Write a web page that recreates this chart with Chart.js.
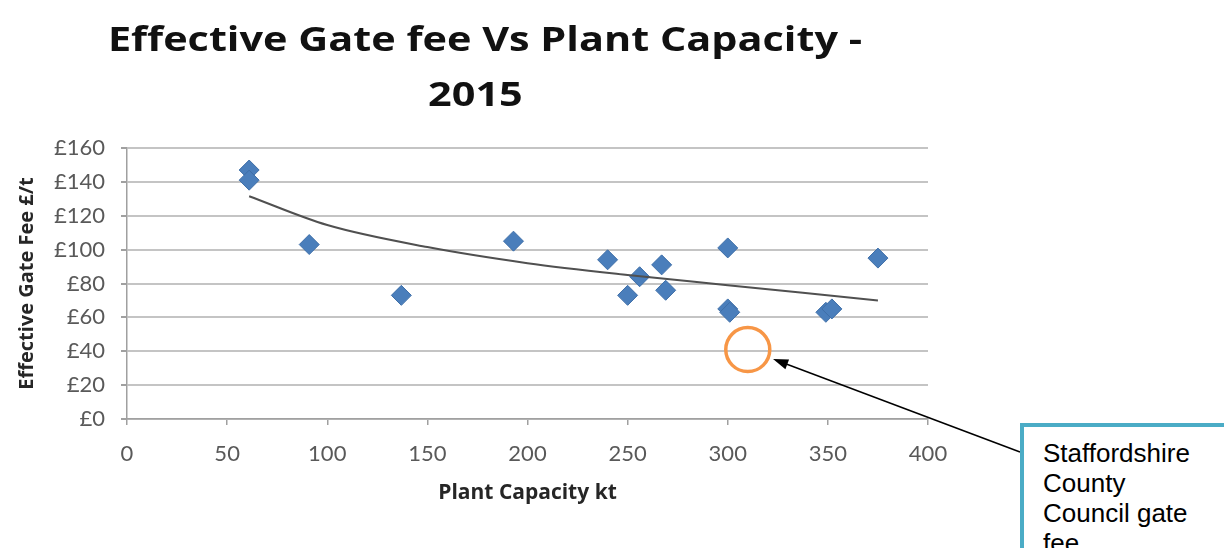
<!DOCTYPE html>
<html>
<head>
<meta charset="utf-8">
<script src="https://cdn.jsdelivr.net/npm/chart.js@4.4.1/dist/chart.umd.min.js"></script>
<style>
  html, body { margin: 0; padding: 0; background: #fff; overflow: hidden; }
  #wrap { position: relative; width: 1224px; height: 548px; }
  #titulo {
    position: absolute; left: 0; top: 10px; width: 970px;
    text-align: center; font: bold 34.5px "Open Sans", sans-serif; line-height: 55px; color: #111;
    transform: scaleX(1.2); transform-origin: 485px 0;
  }
  #titulo span { position: relative; left: -8px; }
  #nota {
    position: absolute; left: 1020px; top: 423px; width: 260px; height: 200px;
    border: 4px solid #4bacc6; background: #fff;
    padding: 11px 0 0 19px; box-sizing: border-box;
    font: 26px "Liberation Sans", Arial, sans-serif; line-height: 30px; color: #000;
  }
</style>
</head>
<body>
<div id="wrap">
  <canvas id="grafica" width="1224" height="548"></canvas>
  <div id="titulo">Effective Gate fee Vs Plant Capacity -<br><span>2015</span></div>
  <div id="nota">Staffordshire<br>County<br>Council gate<br>fee</div>
</div>
<script>
// datos
const capacidad = [61, 61, 91, 137, 193, 240, 250, 256, 267, 269, 300, 300, 301, 349, 352, 375];
const tarifa = [147, 141, 103, 73, 105, 94, 73, 84, 91, 76, 101, 65, 63, 63, 65, 95];

// linea de tendencia
const tendenciaX = [61, 100, 150, 200, 250, 300, 375];
const tendenciaY = [131.5, 114.5, 101.5, 92, 85, 79, 70];

const ticksY = [0, 20, 40, 60, 80, 100, 120, 140, 160];
const ticksX = [0, 50, 100, 150, 200, 250, 300, 350, 400];

// circulo de Staffordshire (en unidades del grafico)
const circulo = { x: 310, y: 41 };

const anotacion = {
    id: 'anotacion',
    afterDraw(chart) {
        const { ctx, scales } = chart;
        const cx = scales.x.getPixelForValue(circulo.x);
        const cy = scales.y.getPixelForValue(circulo.y);
        const r = 22;

        ctx.save();
        ctx.strokeStyle = '#f79646';
        ctx.lineWidth = 3.5;
        ctx.beginPath();
        ctx.arc(cx, cy, r, 0, Math.PI * 2);
        ctx.stroke();

        // flecha desde la caja
        const ox = 1020, oy = 452;
        const ang = Math.atan2(oy - cy, ox - cx);
        const tx = cx + Math.cos(ang) * (r + 5);
        const ty = cy + Math.sin(ang) * (r + 5);
        ctx.strokeStyle = '#000';
        ctx.fillStyle = '#000';
        ctx.lineWidth = 1.5;
        ctx.beginPath();
        ctx.moveTo(ox, oy);
        ctx.lineTo(tx + Math.cos(ang) * 12, ty + Math.sin(ang) * 12);
        ctx.stroke();
        ctx.beginPath();
        ctx.moveTo(tx, ty);
        ctx.lineTo(tx + Math.cos(ang + 0.33) * 16, ty + Math.sin(ang + 0.33) * 16);
        ctx.lineTo(tx + Math.cos(ang - 0.33) * 16, ty + Math.sin(ang - 0.33) * 16);
        ctx.closePath();
        ctx.fill();
        ctx.restore();
    }
};

new Chart(document.querySelector('#grafica'), {
    type: 'scatter',
    data: {
        datasets: [{
            type: 'line',
            data: tendenciaX.map((x, i) => ({ x, y: tendenciaY[i] })),
            borderColor: '#505050',
            borderWidth: 2,
            pointRadius: 0,
            fill: false,
            cubicInterpolationMode: 'monotone'
        }, {
            data: capacidad.map((x, i) => ({ x, y: tarifa[i] })),
            pointStyle: 'rectRot',
            pointRadius: 10,
            pointHoverRadius: 10,
            backgroundColor: '#4a7ebb',
            borderColor: '#3f6fa8',
            borderWidth: 1
        }]
    },
    options: {
        responsive: false,
        animation: false,
        layout: { padding: { top: 148, left: 0, right: 296, bottom: 0 } },
        plugins: {
            legend: { display: false },
            tooltip: { enabled: false }
        },
        scales: {
            x: {
                type: 'linear',
                min: 0,
                max: 400,
                afterFit(scale) { scale.height = 129; },
                afterBuildTicks(scale) { scale.ticks = ticksX.map(v => ({ value: v })); },
                grid: { drawOnChartArea: false, drawTicks: true, tickLength: 6, tickColor: '#a0a0a0', lineWidth: 1.5 },
                border: { color: '#a0a0a0', width: 1.5 },
                ticks: { color: '#595959', font: { family: 'Lato', size: 22 }, padding: 16 },
                title: {
                    display: true,
                    text: 'Plant Capacity kt',
                    color: '#262626',
                    font: { family: 'Open Sans', size: 21, weight: 'bold' },
                    padding: { top: 4, bottom: 42 }
                }
            },
            y: {
                min: 0,
                max: 160,
                afterFit(scale) { scale.width = 127; },
                afterBuildTicks(scale) { scale.ticks = ticksY.map(v => ({ value: v })); },
                grid: { color: '#c4c4c4', lineWidth: 2, tickLength: 6, tickColor: '#a0a0a0' },
                border: { color: '#a0a0a0', width: 1.5 },
                ticks: {
                    color: '#595959',
                    font: { family: 'Lato', size: 22 },
                    padding: 16,
                    callback: v => '£' + v
                },
                title: {
                    display: true,
                    text: 'Effective Gate Fee £/t',
                    color: '#262626',
                    font: { family: 'Open Sans', size: 20, weight: 'bold' },
                    padding: { top: 15, bottom: 0 }
                }
            }
        }
    },
    plugins: [anotacion]
});
</script>
</body>
</html>
